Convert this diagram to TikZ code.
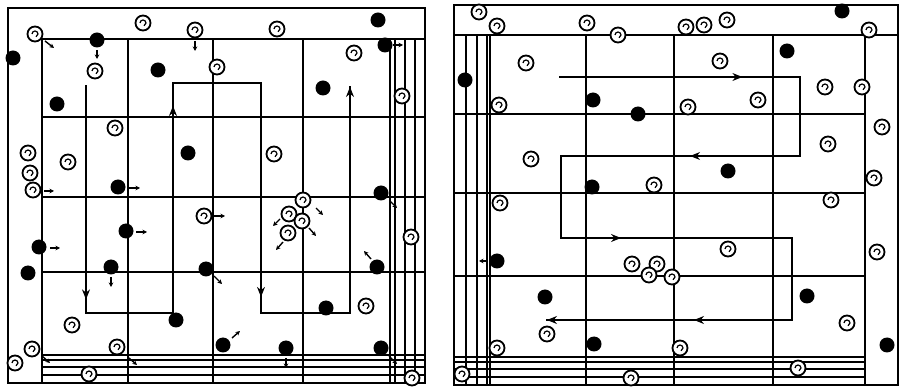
\documentclass[tikz,border=0pt]{standalone}
\usetikzlibrary{arrows.meta, decorations.markings}

\begin{document}
\begin{tikzpicture}[
    x=1pt, y=-1pt,
    >={Stealth[length=10pt, width=8pt]},
    frame/.style={line width=1.9pt},
    gridln/.style={line width=1.4pt},
    route/.style={line width=1.2pt, line cap=rect},
    midarrow/.style={postaction={decorate}, decoration={markings,
      mark=at position #1 with {\arrow{Stealth[length=10pt, width=8pt]}}}},
    tick/.style={-{Stealth[length=4.5pt, width=4.5pt]}, line width=1.4pt},
    dead/.style={circle, fill=black, minimum size=15pt, inner sep=0pt},
    live/.style={circle, draw, fill=white, line width=1.8pt, minimum size=15pt, inner sep=0pt,
      path picture={\draw[line width=1.2pt] ([shift={(-3pt,0pt)}]path picture bounding box.center)
        arc[start angle=180, end angle=-70, radius=3pt];}}
  ]
  \useasboundingbox (0,0) rectangle (903,387);

  % Cornice sinistra
  \draw[frame] (8,8) rectangle (425,383);
  \foreach \x in {42, 128, 213, 303, 390, 395, 405, 415}
    \draw[gridln] (\x,39) -- (\x,383);
  \foreach \y in {39, 117, 197, 272, 355, 360, 367, 375}
    \draw[gridln] (42,\y) -- (425,\y);

  % Cornice destra
  \draw[frame] (454,5) rectangle (898,385);
  \draw[gridln] (454,35) -- (898,35);
  \foreach \x in {466, 477, 487, 490, 586, 674, 773, 865}
    \draw[gridln] (\x,35) -- (\x,385);
  \foreach \y in {114, 193, 276, 357, 362, 369, 377}
    \draw[gridln] (454,\y) -- (865,\y);

  % Percorso di conta (sinistra)
  \coordinate (p1) at (86,86);
  \coordinate (p2) at (86,313);
  \coordinate (p3) at (173,313);
  \coordinate (p4) at (173,83);
  \coordinate (p5) at (261,83);
  \coordinate (p6) at (261,313);
  \coordinate (p7) at (350,313);
  \coordinate (p8) at (350,87);
  \draw[route] (p1) -- (p2) -- (p3) -- (p4) -- (p5) -- (p6) -- (p7) -- (p8);
  \draw[route, midarrow=0.94] (p1) -- (p2);
  \draw[route, midarrow=0.90] (p3) -- (p4);
  \draw[route, midarrow=0.93] (p5) -- (p6);
  \draw[route, ->] (p7) -- (p8);

  % Percorso di conta (destra)
  \coordinate (q1) at (560,77);
  \coordinate (q2) at (800,77);
  \coordinate (q3) at (800,156);
  \coordinate (q4) at (561,156);
  \coordinate (q5) at (561,238);
  \coordinate (q6) at (792,238);
  \coordinate (q7) at (792,320);
  \coordinate (q8) at (547,320);
  \draw[route] (q1) -- (q2) -- (q3) -- (q4) -- (q5) -- (q6) -- (q7) -- (q8);
  \draw[route, midarrow=0.76] (q1) -- (q2);
  \draw[route, midarrow=0.46] (q3) -- (q4);
  \draw[route, midarrow=0.26] (q5) -- (q6);
  \draw[route, midarrow=0.40, ->] (q7) -- (q8);

  % Cellule (sinistra)
  \foreach \x/\y [count=\i] in {35/34, 143/23, 195/30, 277/29, 95/71, 217/67, 354/53,
      402/96, 115/128, 68/162, 28/153, 30/173, 33/190, 274/154, 204/216, 303/200,
      289/214, 302/221, 288/233, 411/237, 72/325, 117/347, 32/349, 15/363, 366/306,
      89/374, 412/378}
    \node[live] (la\i) at (\x,\y) {};
  \foreach \x/\y [count=\i] in {97/40, 378/20, 385/45, 13/58, 158/70, 57/104, 323/88,
      188/153, 118/187, 381/193, 126/231, 39/247, 28/273, 111/267, 206/269, 377/267,
      176/320, 326/308, 223/345, 286/348, 381/348}
    \node[dead] (ld\i) at (\x,\y) {};

  % Cellule (destra)
  \foreach \x/\y [count=\i] in {479/12, 497/26, 587/23, 618/35, 686/27, 704/25, 727/20,
      869/30, 526/63, 499/105, 688/107, 720/61, 758/100, 825/87, 862/87, 882/127,
      531/159, 654/185, 828/144, 874/178, 831/200, 500/203, 632/264, 657/264, 649/275,
      672/277, 728/249, 877/252, 547/334, 497/348, 847/323, 680/348, 798/368, 631/378,
      462/374}
    \node[live] (ra\i) at (\x,\y) {};
  \foreach \x/\y [count=\i] in {842/11, 465/80, 593/100, 638/114, 787/51, 592/187,
      728/171, 497/261, 545/297, 594/344, 807/296, 887/345}
    \node[dead] (rd\i) at (\x,\y) {};

  % Frecce brevi
  \foreach \xa/\ya/\xb/\yb in {45/41/54/48, 97/50/97/59, 195/41/195/51, 393/45/403/45,
      44/191/54/191, 129/188/140/188, 214/216/225/216, 136/232/147/232, 50/248/60/248,
      111/277/111/287, 214/276/222/284, 316/208/323/215, 280/219/273/226, 309/228/316/236,
      283/242/276/250, 371/259/364/251, 232/338/240/331, 286/358/286/368, 42/356/50/363,
      129/358/137/365, 389/356/397/364, 390/201/397/208, 488/261/479/261}
    \draw[tick] (\xa,\ya) -- (\xb,\yb);

\end{tikzpicture}
\end{document}
